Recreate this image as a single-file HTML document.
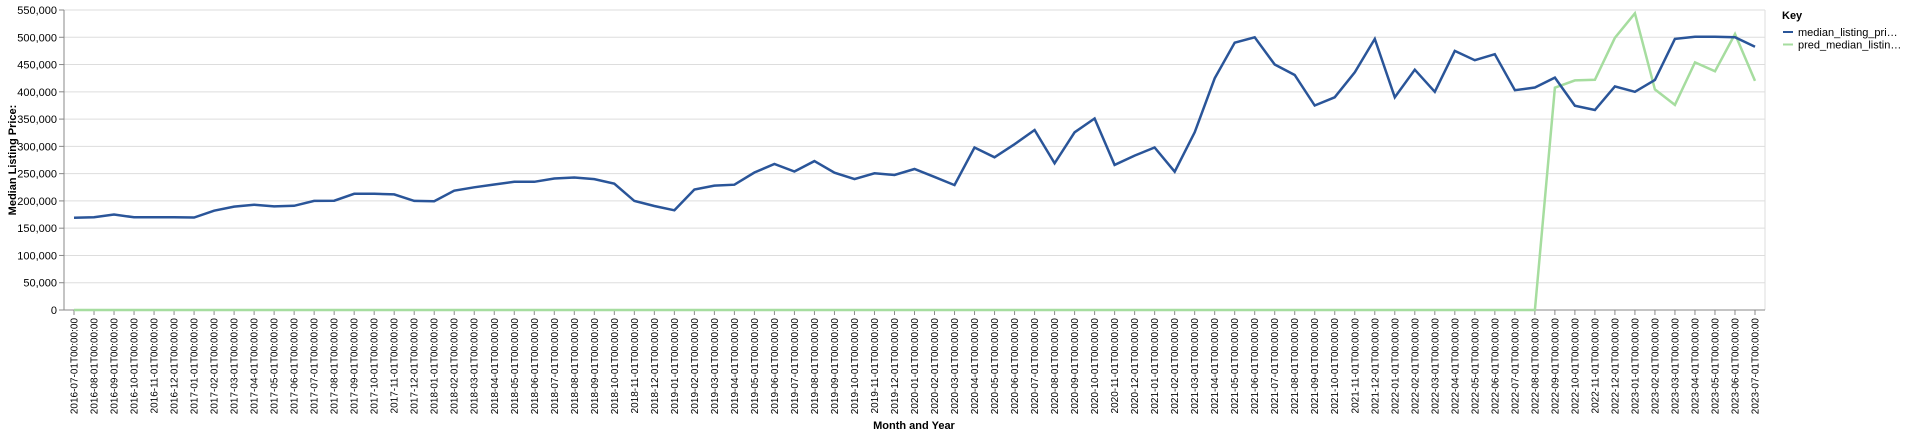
<!DOCTYPE html>
<html><head><meta charset="utf-8"><style>
html,body{margin:0;padding:0;background:#fff;}
svg{display:block;font-family:"Liberation Sans",sans-serif;}
</style></head><body>
<svg id="chart" width="1920" height="434">
<g id="grid"></g>
<g id="yaxis"></g>
<g id="xaxis"></g>
<g id="series"></g>
<text x="16" y="160" transform="rotate(-90 16 160)" text-anchor="middle" font-size="11" font-weight="bold" fill="#000">Median Listing Price:</text>
<text x="914" y="429" text-anchor="middle" font-size="11" font-weight="bold" fill="#000">Month and Year</text>
<g>
<text x="1782" y="19" font-size="11" font-weight="bold" fill="#000">Key</text>
<g>
<line x1="1783" y1="32" x2="1793" y2="32" stroke="#2a5599" stroke-width="2"></line>
<text x="1798" y="36" font-size="11" fill="#000">median_listing_pri…</text></g>
<g>
<line x1="1783" y1="44.5" x2="1793" y2="44.5" stroke="#a6dd9f" stroke-width="2"></line>
<text x="1798" y="48.5" font-size="11" fill="#000">pred_median_listin…</text></g>
</g>
</svg>
<script>
const startYear = 2016, startMonth = 7;
const medianValues = [169000,170000,175000,170000,170000,170000,169500,182000,189500,193000,190000,191000,
200000,200400,213000,213000,212000,200000,199500,218800,225000,230000,235000,235000,241000,243000,240000,231600,
200000,190700,182700,221000,228000,229800,252000,267700,254000,273000,251800,240000,250600,247500,258500,244000,
229000,298000,280000,304000,330000,269000,325800,351000,266000,283000,298000,253600,325800,424700,490000,500000,
450000,430800,375000,390000,435800,497000,390000,440600,400000,475000,458000,469000,403000,408000,426000,374600,
366700,410000,400000,421700,497000,501000,501000,500000,482700];
const predValues = [];
for (let i = 0; i < 74; i++) predValues.push(0);
predValues.push(407600,421000,422000,499000,544000,404500,376000,454000,437600,506000,420000);
const yTicks = [0,50000,100000,150000,200000,250000,300000,350000,400000,450000,500000,550000];

const categories = medianValues.map((_, i) => {
  const m = startMonth - 1 + i, y = startYear + Math.floor(m / 12), mm = (m % 12) + 1;
  return y + '-' + String(mm).padStart(2, '0') + '-01T00:00:00';
});
const NS = 'http://www.w3.org/2000/svg';
const X0 = 64, X1 = 1765, Y0 = 310, Y1 = 10;
const step = (X1 - X0) / categories.length;
const xs = i => X0 + step * (i + 0.5);
const ys = v => Y0 - (v / 550000) * (Y0 - Y1);
function mk(tag, attrs, parent) {
  const e = document.createElementNS(NS, tag);
  for (const k in attrs) e.setAttribute(k, attrs[k]);
  parent.appendChild(e); return e;
}
const grid = document.getElementById('grid'), yaxis = document.getElementById('yaxis'),
  xaxis = document.getElementById('xaxis'), series = document.getElementById('series');
yTicks.forEach(t => {
  const y = ys(t);
  const gl = mk('line', {x1: X0, x2: X1, y1: y, y2: y, stroke: '#ddd', 'stroke-width': 1}, grid);
  
  
  mk('line', {x1: X0 - 5, x2: X0, y1: y, y2: y, stroke: '#888'}, yaxis);
  const tx = mk('text', {x: X0 - 7, y: y + 4, 'text-anchor': 'end', 'font-size': 11, fill: '#000'}, yaxis);
  tx.textContent = t.toLocaleString('en-US');
  
  
});
mk('line', {x1: X1, x2: X1, y1: Y1, y2: Y0, stroke: '#ddd'}, grid);
mk('line', {x1: X0, x2: X0, y1: Y1, y2: Y0, stroke: '#888'}, yaxis);
mk('line', {x1: X0, x2: X1, y1: Y0, y2: Y0, stroke: '#888'}, xaxis);
categories.forEach((c, i) => {
  const x = xs(i);
  mk('line', {x1: x, x2: x, y1: Y0, y2: Y0 + 5, stroke: '#888'}, xaxis);
  const tx = mk('text', {x: x + 3.5, y: Y0 + 8, 'text-anchor': 'end', 'font-size': 10, fill: '#000',
    transform: 'rotate(-90 ' + (x + 3.5) + ' ' + (Y0 + 8) + ')'}, xaxis);
  tx.textContent = c;
  
  
});
function line(vals, color, name) {
  const d = vals.map((v, i) => (i ? 'L' : 'M') + xs(i).toFixed(1) + ' ' + ys(v).toFixed(1)).join(' ');
  const p = mk('path', {d: d, fill: 'none', stroke: color, 'stroke-width': 2.5, 'stroke-linejoin': 'miter'}, series);
  
  
}
line(predValues, '#a6dd9f', 'pred-median-listing-price-line');
line(medianValues, '#2a5599', 'median-listing-price-line');
</script>
</body></html>
